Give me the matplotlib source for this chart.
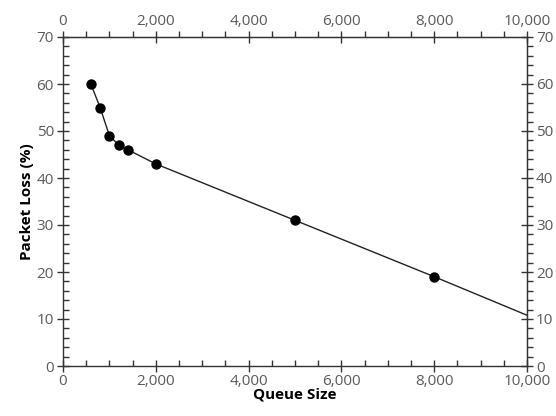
import matplotlib
matplotlib.use("Agg")
import matplotlib.pyplot as plt
from matplotlib.ticker import MultipleLocator, FuncFormatter

plt.rcParams['font.family'] = ['Open Sans', 'DejaVu Sans']

queue_size = [600, 800, 1000, 1200, 1400, 2000, 5000, 8000]
packet_loss = [60, 55, 49, 47, 46, 43, 31, 19]
line_x = queue_size + [10000]
line_y = packet_loss + [10.8]

fig = plt.figure(figsize=(5.56, 4.16), dpi=100)
ax = fig.add_axes([63/556, 1-366/416, 464/556, 329/416])

ax.plot(line_x, line_y, color='#222222', lw=1.0, zorder=2)
ax.scatter(queue_size, packet_loss, s=42, color='black', zorder=3)

ax.set_xlim(0, 10000)
ax.set_ylim(0, 70)

fmt = FuncFormatter(lambda v, p: f"{int(v):,}")
label_color = '#5a5a5a'
tsize = 11

ax.xaxis.set_major_locator(MultipleLocator(2000))
ax.xaxis.set_minor_locator(MultipleLocator(500))
ax.yaxis.set_major_locator(MultipleLocator(10))
ax.yaxis.set_minor_locator(MultipleLocator(2))
ax.xaxis.set_major_formatter(fmt)

ax.tick_params(which='major', direction='inout', length=9, width=1, colors='#333333',
               labelcolor=label_color, labelsize=tsize)
ax.tick_params(which='minor', direction='in', length=4, width=1, colors='#333333')
ax.tick_params(axis='x', which='major', pad=1)
ax.tick_params(axis='y', which='major', pad=2)

for s in ax.spines.values():
    s.set_color('#333333')
    s.set_linewidth(1)

axt = ax.secondary_xaxis('top')
axt.xaxis.set_major_locator(MultipleLocator(2000))
axt.xaxis.set_minor_locator(MultipleLocator(500))
axt.xaxis.set_major_formatter(fmt)
axt.tick_params(which='major', direction='inout', length=9, width=1, colors='#333333',
                labelcolor=label_color, labelsize=tsize, pad=1)
axt.tick_params(which='minor', direction='out', length=4, width=1, colors='#333333')
axt.spines['top'].set_color('#333333')

axr = ax.secondary_yaxis('right')
axr.yaxis.set_major_locator(MultipleLocator(10))
axr.yaxis.set_minor_locator(MultipleLocator(2))
axr.tick_params(which='major', direction='inout', length=9, width=1, colors='#333333',
                labelcolor=label_color, labelsize=tsize, pad=2)
axr.tick_params(which='minor', direction='out', length=4, width=1, colors='#333333')
axr.spines['right'].set_color('#333333')

ax.set_xlabel('Queue Size', fontsize=11, fontweight='bold', labelpad=-1)
ax.set_ylabel('Packet Loss (%)', fontsize=11, fontweight='bold', labelpad=2)

fig.savefig('out.png', dpi=100)
